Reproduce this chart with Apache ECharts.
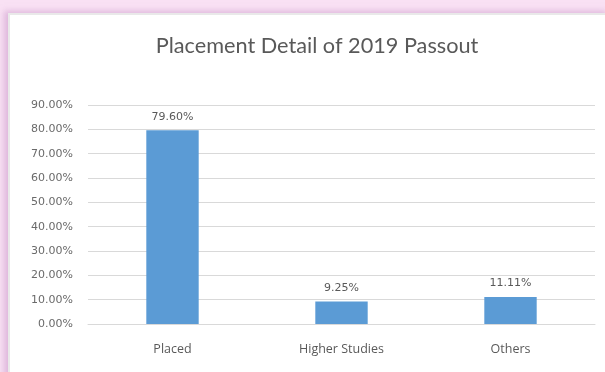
<!DOCTYPE html>
<html>
<head>
<meta charset="utf-8">
<script src="https://cdn.jsdelivr.net/npm/echarts@6/dist/echarts.min.js"></script>
<style>
  html, body { margin: 0; padding: 0; width: 605px; height: 372px; overflow: hidden; background: #f9e1f4; }
  #panel { position: absolute; left: 8px; top: 13px; width: 600px; height: 370px; background: #ffffff;
           border-left: 2px solid #e9e9e9; border-top: 2px solid #e9e9e9;
           box-shadow: -4px -2px 6px rgba(200,150,200,0.55); }
  #chart { position: absolute; left: 0; top: 0; width: 605px; height: 372px; }
</style>
</head>
<body>
<div id="panel"></div>
<div id="chart"></div>
<script>
const titleText = 'Placement Detail of 2019 Passout';
const categories = ['Placed', 'Higher Studies', 'Others'];
const values = [79.60, 9.25, 11.11];
const yMin = 0, yMax = 90, yStep = 10;

const chart = echarts.init(document.getElementById('chart'), null, { renderer: 'canvas' });
chart.setOption({
  backgroundColor: 'transparent',
  animation: false,
  title: {
    text: titleText,
    left: 312, top: 30, textAlign: 'center',
    textStyle: { fontFamily: 'Lato', fontSize: 21.7, fontWeight: 'normal', color: '#595959' }
  },
  grid: { left: 88, right: 10, top: 105, bottom: 48, containLabel: false },
  xAxis: {
    type: 'category',
    data: categories,
    axisLine: { lineStyle: { color: '#d9d9d9' } },
    axisTick: { show: false },
    axisLabel: { color: '#595959', fontFamily: 'Open Sans', fontSize: 12.5, margin: 19 }
  },
  yAxis: {
    type: 'value', min: yMin, max: yMax, interval: yStep,
    axisLine: { show: false },
    axisTick: { show: false },
    splitLine: { lineStyle: { color: '#d9d9d9' } },
    axisLabel: { color: '#6a6a6a', fontFamily: 'DejaVu Sans', fontSize: 11, margin: 15,
                 formatter: v => v.toFixed(2) + '%' }
  },
  series: [{
    type: 'bar',
    data: values,
    barWidth: '31%',
    itemStyle: { color: '#5b9bd5' },
    label: { show: true, position: 'top', distance: 8, color: '#595959', fontFamily: 'DejaVu Sans', fontSize: 11,
             formatter: p => p.value.toFixed(2) + '%' }
  }]
});
</script>
</body>
</html>
